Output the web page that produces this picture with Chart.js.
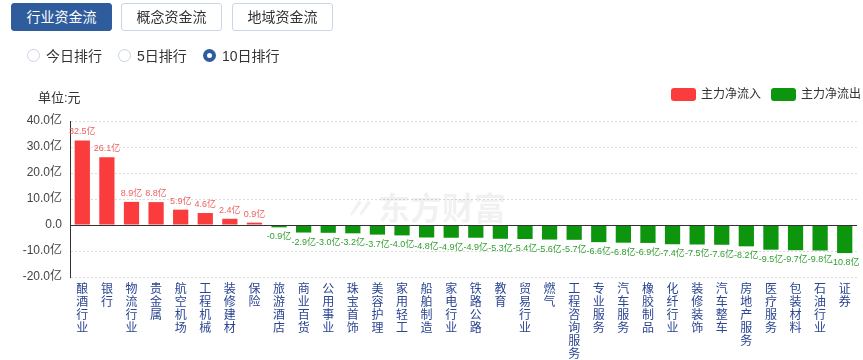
<!DOCTYPE html>
<html>
<head>
<meta charset="utf-8">
<script src="https://cdn.jsdelivr.net/npm/chart.js@4.4.0/dist/chart.umd.min.js"></script>
<style>
  html, body { margin: 0; padding: 0; background: #fff; }
  body { width: 863px; height: 360px; position: relative; overflow: hidden;
         font-family: "Liberation Sans", "Noto Sans CJK SC", sans-serif; color: #333; }
  #c { position: absolute; left: 0; top: 0; }
  .btn { position: absolute; top: 3px; height: 26px; width: 99px; border: 1px solid #c9d5e8;
         border-radius: 3px; background: #fff; font-size: 14px; line-height: 26px; text-align: center; color: #333; }
  .btn.on { background: #2f5c9c; border-color: #2f5c9c; color: #fff; }
  .radio { position: absolute; top: 49px; height: 14px; font-size: 14px; line-height: 14px; }
  .radio i { position: absolute; left: -19px; top: 0px; width: 11px; height: 11px; border: 1px solid #c8d3e3; border-radius: 50%; background: #fff; }
  .radio.on i { width: 5px; height: 5px; border: 4px solid #2f5c9c; }
  .unit { position: absolute; left: 38px; top: 87px; font-size: 13px; }
  .leg { position: absolute; top: 87px; font-size: 12px; line-height: 14px; }
  .leg b { position: absolute; left: -30px; top: 1px; width: 25px; height: 13px; border-radius: 3px; }
</style>
</head>
<body>
<canvas id="c" width="863" height="360"></canvas>
<div class="btn on" style="left:11px">行业资金流</div>
<div class="btn" style="left:121px">概念资金流</div>
<div class="btn" style="left:232px">地域资金流</div>
<div class="radio" style="left:46px"><i></i>今日排行</div>
<div class="radio" style="left:137px"><i></i>5日排行</div>
<div class="radio on" style="left:222px"><i></i>10日排行</div>
<div class="unit">单位:元</div>
<div class="leg" style="left:701px"><b style="background:#fa3c3c"></b>主力净流入</div>
<div class="leg" style="left:801px"><b style="background:#0e950e"></b>主力净流出</div>
<script>
const categories = ["酿酒行业","银行","物流行业","贵金属","航空机场","工程机械","装修建材","保险","旅游酒店","商业百货","公用事业","珠宝首饰","美容护理","家用轻工","船舶制造","家电行业","铁路公路","教育","贸易行业","燃气","工程咨询服务","专业服务","汽车服务","橡胶制品","化纤行业","装修装饰","汽车整车","房地产服务","医疗服务","包装材料","石油行业","证券"];
const values = [32.5,26.1,8.9,8.8,5.9,4.6,2.4,0.9,-0.9,-2.9,-3.0,-3.2,-3.7,-4.0,-4.8,-4.9,-4.9,-5.3,-5.4,-5.6,-5.7,-6.6,-6.8,-6.9,-7.4,-7.5,-7.6,-8.2,-9.5,-9.7,-9.8,-10.8];
const yMin = -20, yMax = 40, yStep = 10;

const RED = '#fa3c3c', GREEN = '#0e950e';

const extras = {
  id: 'extras',
  beforeDatasetsDraw(chart) {
    const {ctx} = chart;
    ctx.save();
    ctx.fillStyle = 'rgba(0,0,0,0.055)';
    ctx.font = 'bold 32px "Noto Sans CJK SC", sans-serif';
    ctx.textBaseline = 'middle';
    ctx.textAlign = 'left';
    ctx.fillText('东方财富', 378, 208);
    ctx.font = 'bold italic 30px "Noto Sans CJK SC", sans-serif';
    ctx.fillText('〃', 343, 208);
    ctx.restore();
  },
  afterDatasetsDraw(chart) {
    const {ctx, chartArea, scales} = chart;
    const y0 = scales.y.getPixelForValue(0);
    ctx.save();
    ctx.strokeStyle = '#333';
    ctx.lineWidth = 1;
    ctx.beginPath();
    ctx.moveTo(chartArea.left, Math.round(y0) + 0.5);
    ctx.lineTo(chartArea.right, Math.round(y0) + 0.5);
    ctx.stroke();
    const meta = chart.getDatasetMeta(0);
    ctx.font = '9px "Liberation Sans", "Noto Sans CJK SC", sans-serif';
    ctx.textAlign = 'center';
    meta.data.forEach((el, i) => {
      const v = values[i];
      const txt = v.toFixed(1) + '亿';
      if (v >= 0) {
        ctx.fillStyle = '#ee6060';
        ctx.textBaseline = 'bottom';
        ctx.fillText(txt, el.x, el.y - 4);
      } else {
        ctx.fillStyle = '#2f9e2f';
        ctx.textBaseline = 'top';
        ctx.fillText(txt, el.x, el.y + 5);
      }
    });
    ctx.restore();
  }
};

new Chart(document.getElementById('c'), {
  type: 'bar',
  data: {
    labels: categories.map(s => s.split('')),
    datasets: [{
      data: values,
      backgroundColor: ctx => (values[ctx.dataIndex] >= 0 ? RED : GREEN),
      barPercentage: 0.62,
      categoryPercentage: 1.0
    }]
  },
  options: {
    responsive: false,
    animation: false,
    layout: { padding: { top: 121, left: 0, right: 6, bottom: 0 } },
    plugins: { legend: { display: false }, tooltip: { enabled: false } },
    scales: {
      x: {
        grid: { display: false, drawTicks: false },
        border: { display: false },
        ticks: {
          autoSkip: false, maxRotation: 0, minRotation: 0, padding: 5,
          color: '#2a4592',
          font: { size: 12, family: '"Noto Sans CJK SC", sans-serif', lineHeight: '13px' }
        },
        afterFit(scale) { scale.height = 83; }
      },
      y: {
        min: yMin, max: yMax,
        grid: { color: '#dcdcdc', drawTicks: false },
        border: { display: true, color: '#333', width: 1, dash: [2, 2] },
        ticks: {
          stepSize: yStep, padding: 8, color: '#444',
          font: { size: 12, family: '"Liberation Sans", "Noto Sans CJK SC", sans-serif' },
          callback: v => (v === 0 ? '0.0' : v.toFixed(1) + '亿')
        },
        afterFit(scale) { scale.width = 70; }
      }
    }
  },
  plugins: [extras]
});
</script>
</body>
</html>
